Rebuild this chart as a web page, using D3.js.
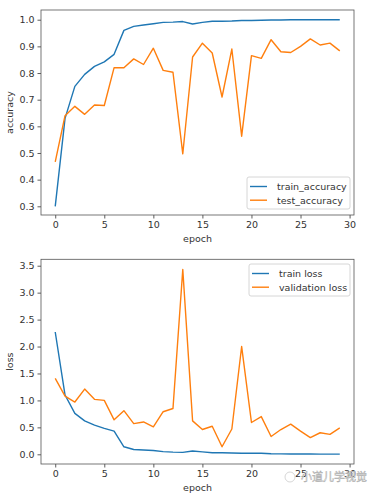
<!DOCTYPE html>
<html>
<head>
<meta charset="utf-8">
<script src="https://cdn.jsdelivr.net/npm/d3@7"></script>
<style>
body { margin: 0; background: #fff; }
svg text { font-family: "DejaVu Sans", sans-serif; fill: #333; }
</style>
</head>
<body>
<svg id="chart" width="372" height="496"></svg>
<script>
// data
var epochs = d3.range(0, 30);
var trainAcc = [0.30, 0.63, 0.75, 0.795, 0.825, 0.842, 0.87, 0.96, 0.975, 0.98,
                0.985, 0.99, 0.991, 0.993, 0.984, 0.99, 0.994, 0.994, 0.995, 0.997,
                0.997, 0.998, 0.999, 0.999, 1.0, 1.0, 1.0, 1.0, 1.0, 1.0];
var testAcc = [0.467, 0.64, 0.675, 0.645, 0.68, 0.678, 0.82, 0.82, 0.853, 0.832,
               0.893, 0.81, 0.803, 0.497, 0.86, 0.912, 0.875, 0.71, 0.89, 0.563,
               0.865, 0.855, 0.925, 0.88, 0.877, 0.9, 0.928, 0.905, 0.912, 0.883];
var trainLoss = [2.27, 1.1, 0.76, 0.62, 0.54, 0.48, 0.43, 0.14, 0.09, 0.08,
                 0.07, 0.05, 0.04, 0.035, 0.06, 0.045, 0.03, 0.03, 0.025, 0.02,
                 0.02, 0.02, 0.01, 0.008, 0.006, 0.005, 0.005, 0.004, 0.004, 0.004];
var valLoss = [1.41, 1.08, 0.97, 1.21, 1.02, 1.0, 0.64, 0.81, 0.57, 0.6,
               0.51, 0.79, 0.85, 3.43, 0.62, 0.46, 0.52, 0.14, 0.47, 2.0,
               0.59, 0.70, 0.33, 0.46, 0.56, 0.43, 0.31, 0.40, 0.37, 0.49];
var xTicks = [0, 5, 10, 15, 20, 25, 30];
var accTicks = [0.3, 0.4, 0.5, 0.6, 0.7, 0.8, 0.9, 1.0];
var lossTicks = [0, 0.5, 1.0, 1.5, 2.0, 2.5, 3.0, 3.5];

var blue = "#1f77b4", orange = "#ff7f0e";
var svg = d3.select("#chart");

function panel(opt) {
  var x = d3.scaleLinear().domain([-1.45, 30.45]).range([opt.left, opt.right]);
  var y = d3.scaleLinear().domain(opt.ydom).range([opt.bottom, opt.top]);
  var g = svg.append("g");

  // axes
  var xa = g.append("g")
    .attr("transform", "translate(0," + opt.bottom + ")")
    .call(d3.axisBottom(x).tickValues(xTicks).tickFormat(d3.format("d")).tickSize(3.5).tickPadding(3));
  var ya = g.append("g")
    .attr("transform", "translate(" + opt.left + ",0)")
    .call(d3.axisLeft(y).tickValues(opt.yticks).tickFormat(d3.format(".1f")).tickSize(3.5).tickPadding(3));
  [xa, ya].forEach(function(a) {
    a.select(".domain").remove();
    a.selectAll("line").attr("stroke", "#333").attr("stroke-width", 0.8);
    a.selectAll("text").style("font-size", "9.5px").attr("fill", "#333");
  });

  // frame
  g.append("rect")
    .attr("x", opt.left).attr("y", opt.top)
    .attr("width", opt.right - opt.left).attr("height", opt.bottom - opt.top)
    .attr("fill", "none").attr("stroke", "#555").attr("stroke-width", 0.8);

  var line = d3.line().x(function(d, i) { return x(epochs[i]); }).y(function(d) { return y(d); });
  opt.series.forEach(function(s) {
    g.append("path").datum(s.values)
      .attr("d", line).attr("fill", "none")
      .attr("stroke", s.color).attr("stroke-width", 1.4).attr("stroke-linejoin", "round");
  });

  // labels
  g.append("text")
    .attr("x", (opt.left + opt.right) / 2).attr("y", opt.bottom + 27)
    .attr("text-anchor", "middle").style("font-size", "9.5px").text("epoch");
  g.append("text")
    .attr("transform", "translate(13," + (opt.top + opt.bottom) / 2 + ") rotate(-90)")
    .attr("text-anchor", "middle").style("font-size", "9.5px").text(opt.ylabel);

  // legend
  var lg = g.append("g").attr("transform", "translate(" + opt.legend[0] + "," + opt.legend[1] + ")");
  lg.append("rect").attr("width", opt.legend[2]).attr("height", 32).attr("rx", 2)
    .attr("fill", "#fff").attr("fill-opacity", 0.8).attr("stroke", "#ccc").attr("stroke-width", 0.8);
  opt.series.forEach(function(s, i) {
    var yy = 9.5 + i * 13.7;
    lg.append("line").attr("x1", 3).attr("x2", 20).attr("y1", yy).attr("y2", yy)
      .attr("stroke", s.color).attr("stroke-width", 1.4);
    lg.append("text").attr("x", 30).attr("y", yy + 3.3).style("font-size", "9.5px").text(s.name);
  });
}

panel({
  left: 41, right: 354, top: 10, bottom: 215,
  ydom: [0.2674, 1.0364], yticks: accTicks, ylabel: "accuracy",
  legend: [247, 177, 103],
  series: [{ name: "train_accuracy", values: trainAcc, color: blue },
           { name: "test_accuracy", values: testAcc, color: orange }]
});

panel({
  left: 41, right: 354, top: 259.3, bottom: 464,
  ydom: [-0.18, 3.619], yticks: lossTicks, ylabel: "loss",
  legend: [249, 264, 101],
  series: [{ name: "train loss", values: trainLoss, color: blue },
           { name: "validation loss", values: valLoss, color: orange }]
});

// watermark
svg.append("text").attr("x", 301).attr("y", 481)
  .style("font-family", "'Noto Sans CJK SC', sans-serif").style("font-size", "11px")
  .style("fill", "#fff").style("stroke", "#aaa").style("stroke-width", 0.5)
  .text("小道儿学视觉");
svg.append("circle").attr("cx", 290).attr("cy", 477).attr("r", 5)
  .attr("fill", "none").attr("stroke", "#ccc").attr("stroke-width", 0.8);
</script>
</body>
</html>
